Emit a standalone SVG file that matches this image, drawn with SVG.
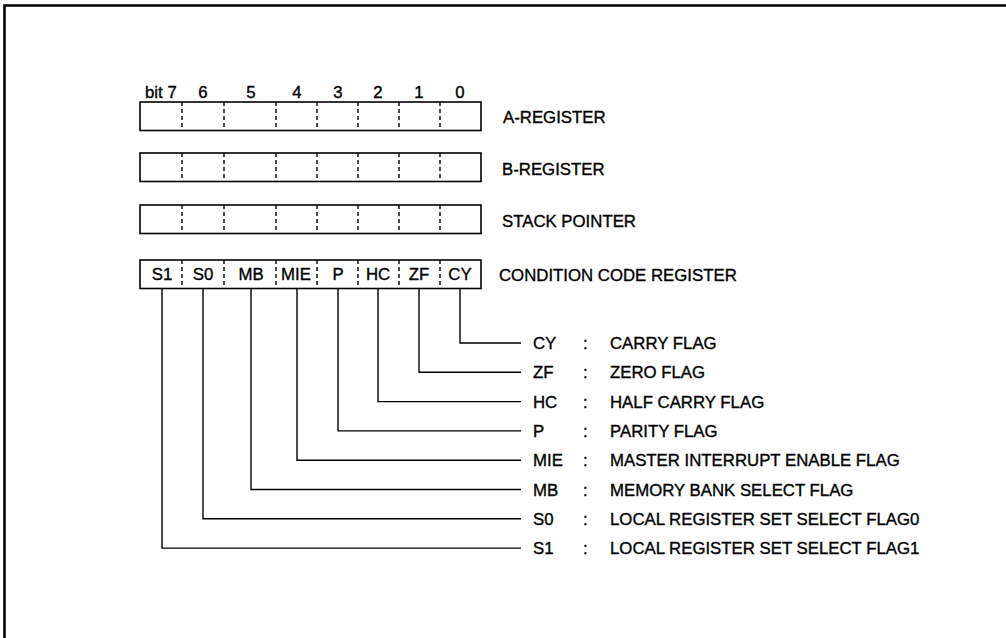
<svg xmlns="http://www.w3.org/2000/svg" width="1006" height="638" viewBox="0 0 1006 638">
<style>
text{font-family:"Liberation Sans",Arial,sans-serif;font-size:16.8px;fill:#000;stroke:#000;stroke-width:0.35}
.c{text-anchor:middle}
.box{fill:none;stroke:#000;stroke-width:1.6}
.div{stroke:#000;stroke-width:1.4;stroke-dasharray:4 3}
.ln{fill:none;stroke:#000;stroke-width:1.4}
.frame{fill:none;stroke:#000;stroke-width:2.6}
</style>
<rect width="1006" height="638" fill="#fff"/>
<path class="frame" d="M4.5,638 V5.5 H1006"/>
<defs>
<g id="cells">
<rect class="box" x="140" y="0" width="341" height="28.5"/>
<path class="div" d="M182,0V28.5M224,0V28.5M276,0V28.5M317,0V28.5M358,0V28.5M399,0V28.5M440,0V28.5"/>
</g>
</defs>
<g id="bit-header">
<text x="145" y="97.5">bit 7</text>
<text class="c" x="203" y="97.5">6</text>
<text class="c" x="251" y="97.5">5</text>
<text class="c" x="297" y="97.5">4</text>
<text class="c" x="338" y="97.5">3</text>
<text class="c" x="378" y="97.5">2</text>
<text class="c" x="419" y="97.5">1</text>
<text class="c" x="460" y="97.5">0</text>
</g>
<g id="a-register">
<use href="#cells" y="102"/>
<text x="503" y="123">A-REGISTER</text>
</g>
<g id="b-register">
<use href="#cells" y="153"/>
<text x="502" y="174.5">B-REGISTER</text>
</g>
<g id="stack-pointer">
<use href="#cells" y="205"/>
<text x="502" y="226.5">STACK POINTER</text>
</g>
<g id="ccr">
<use href="#cells" y="260"/>
<text class="c" x="162" y="280">S1</text>
<text class="c" x="203" y="280">S0</text>
<text class="c" x="251" y="280">MB</text>
<text class="c" x="296" y="280">MIE</text>
<text class="c" x="338" y="280">P</text>
<text class="c" x="378" y="280">HC</text>
<text class="c" x="419" y="280">ZF</text>
<text class="c" x="460" y="280">CY</text>
<text x="499" y="280.5">CONDITION CODE REGISTER</text>
</g>
<g id="connectors">
<path class="ln" d="M460,288.5V343H521"/>
<path class="ln" d="M419,288.5V372.3H521"/>
<path class="ln" d="M378,288.5V401.6H521"/>
<path class="ln" d="M338,288.5V430.9H521"/>
<path class="ln" d="M297,288.5V460.2H521"/>
<path class="ln" d="M251,288.5V489.5H521"/>
<path class="ln" d="M203,288.5V518.8H521"/>
<path class="ln" d="M162,288.5V548.1H521"/>
</g>
<g id="legend-cy"><text x="533" y="349">CY</text><text x="583" y="349">:</text><text x="610" y="349">CARRY FLAG</text></g>
<g id="legend-zf"><text x="533" y="378.3">ZF</text><text x="583" y="378.3">:</text><text x="610" y="378.3">ZERO FLAG</text></g>
<g id="legend-hc"><text x="533" y="407.6">HC</text><text x="583" y="407.6">:</text><text x="610" y="407.6">HALF CARRY FLAG</text></g>
<g id="legend-p"><text x="533" y="436.9">P</text><text x="583" y="436.9">:</text><text x="610" y="436.9">PARITY FLAG</text></g>
<g id="legend-mie"><text x="533" y="466.2">MIE</text><text x="583" y="466.2">:</text><text x="610" y="466.2">MASTER INTERRUPT ENABLE FLAG</text></g>
<g id="legend-mb"><text x="533" y="495.5">MB</text><text x="583" y="495.5">:</text><text x="610" y="495.5">MEMORY BANK SELECT FLAG</text></g>
<g id="legend-s0"><text x="533" y="524.8">S0</text><text x="583" y="524.8">:</text><text x="610" y="524.8">LOCAL REGISTER SET SELECT FLAG0</text></g>
<g id="legend-s1"><text x="533" y="554.1">S1</text><text x="583" y="554.1">:</text><text x="610" y="554.1">LOCAL REGISTER SET SELECT FLAG1</text></g>
</svg>
